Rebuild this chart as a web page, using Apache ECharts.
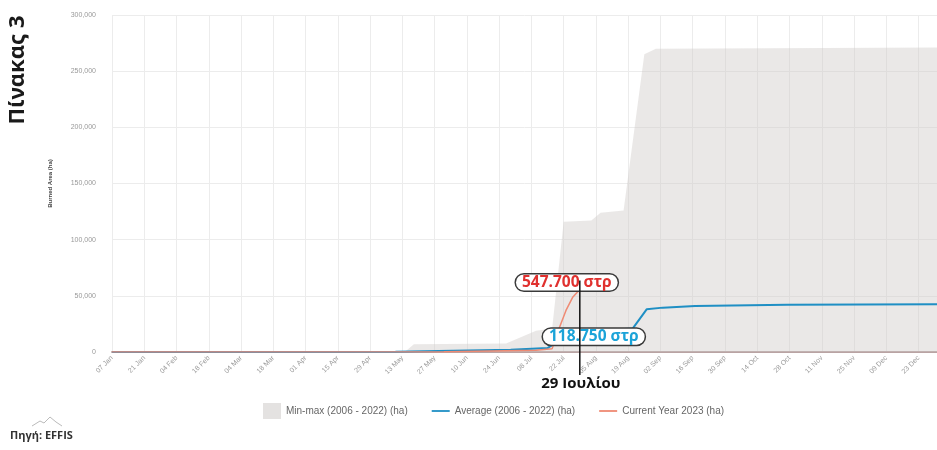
<!DOCTYPE html>
<html>
<head>
<meta charset="utf-8">
<script src="https://cdn.jsdelivr.net/npm/echarts@6/dist/echarts.min.js"></script>
<style>
html,body{margin:0;padding:0;background:#fff;}
#c{width:937px;height:450px;}
</style>
</head>
<body>
<div id="c"></div>
<script>
// ---- data (dates as MM-DD of 2023, values in ha) ----
const yTicks = [0, 50000, 100000, 150000, 200000, 250000, 300000];
const minMaxDates = ['01-07','05-14','05-18','06-27','07-10','07-17','07-22','08-03','08-07','08-17','08-26','08-31','12-31'];
const minMaxValues = [0, 0, 7000, 7500, 19000, 21000, 116000, 117000, 124000, 126000, 265000, 270000, 271000];
const avgDates = ['01-07','05-10','06-29','07-15','07-19','07-29','08-01','08-10','08-21','08-27','09-03','09-17','10-27','12-31'];
const avgValues = [0, 300, 2000, 3500, 9000, 11875, 13000, 19500, 21000, 38000, 39500, 41000, 42000, 42500];
const curDates = ['01-07','05-31','07-10','07-17','07-20','07-23','07-26','07-28','07-29'];
const curValues = [0, 300, 1500, 3000, 21000, 37000, 49000, 53500, 54770];
const seriesNames = ['Min-max (2006 - 2022) (ha)', 'Average (2006 - 2022) (ha)', 'Current Year 2023 (ha)'];
const monthNames = ['Jan','Feb','Mar','Apr','May','Jun','Jul','Aug','Sep','Oct','Nov','Dec'];
const annoDate = '07-29';
const annoCurText = '547.700 στρ';
const annoAvgText = '118.750 στρ';
const annoDateText = '29 Ιουλίου';
const titleText = 'Πίνακας 3';
const sourceText = 'Πηγή: EFFIS';

// x = days since 07 Jan 2023
const t0 = Date.UTC(2023, 0, 7);
function dayOffset(md) {
  const [m, d] = md.split('-').map(Number);
  return (Date.UTC(2023, m - 1, d) - t0) / 86400000;
}
function toPairs(dates, vals) { return dates.map((d, i) => [dayOffset(d), vals[i]]); }
function fmtDay(v) {
  const dt = new Date(t0 + v * 86400000);
  const dd = String(dt.getUTCDate()).padStart(2, '0');
  return dd + ' ' + monthNames[dt.getUTCMonth()];
}

const AVG_COLOR = '#1f8fc4';
const CUR_COLOR = '#ef8a73';
const lineIcon = 'path://M0,0H24V2.4H0Z';

const chart = echarts.init(document.getElementById('c'));
const option = {
  animation: false,
  backgroundColor: '#fff',
  grid: { left: 112, right: 0, top: 15, bottom: 98, containLabel: false },
  legend: {
    left: 258, top: 398,
    itemWidth: 18, itemHeight: 16, itemGap: 24,
    textStyle: { fontSize: 10, color: '#666', fontFamily: 'Liberation Sans' },
    data: [
      { name: seriesNames[0], icon: 'rect', itemStyle: { color: '#e4e2e1' } },
      { name: seriesNames[1], icon: lineIcon, itemStyle: { color: AVG_COLOR } },
      { name: seriesNames[2], icon: lineIcon, itemStyle: { color: CUR_COLOR } }
    ]
  },
  xAxis: {
    type: 'value',
    min: 0, max: dayOffset('12-31'), interval: 14,
    axisLine: { show: true, lineStyle: { color: '#b9a3a3', width: 2 } },
    axisTick: { show: false },
    splitLine: { show: true, lineStyle: { color: '#ececec', width: 1 } },
    axisLabel: {
      rotate: 45, fontSize: 7, color: '#999', margin: 5,
      fontFamily: 'Liberation Sans',
      showMaxLabel: false,
      formatter: v => (v % 14 === 0 ? fmtDay(v) : '')
    }
  },
  yAxis: {
    type: 'value', min: yTicks[0], max: yTicks[yTicks.length - 1], interval: yTicks[1] - yTicks[0],
    name: 'Burned Area (ha)', nameLocation: 'middle', nameGap: 59,
    nameTextStyle: { fontSize: 6, color: '#444', fontWeight: 'bold', fontFamily: 'Liberation Sans' },
    axisLine: { show: false }, axisTick: { show: false },
    splitLine: { lineStyle: { color: '#ececec' } },
    axisLabel: { fontSize: 7, color: '#999', margin: 16, fontFamily: 'Liberation Sans',
      formatter: v => v.toLocaleString('en-US') }
  },
  series: [
    {
      name: seriesNames[0], type: 'line', symbol: 'none', z: 1,
      data: toPairs(minMaxDates, minMaxValues),
      lineStyle: { width: 0 },
      itemStyle: { color: '#e4e2e1' },
      areaStyle: { color: 'rgba(205,200,198,0.42)', opacity: 1 }
    },
    {
      name: seriesNames[1], type: 'line', symbol: 'none', z: 3,
      data: toPairs(avgDates, avgValues),
      lineStyle: { width: 2, color: AVG_COLOR },
      itemStyle: { color: AVG_COLOR }
    },
    {
      name: seriesNames[2], type: 'line', symbol: 'none', z: 4,
      data: toPairs(curDates, curValues),
      lineStyle: { width: 1.5, color: CUR_COLOR },
      itemStyle: { color: CUR_COLOR }
    }
  ]
};
chart.setOption(option);

const xA = dayOffset(annoDate);
const pCur = chart.convertToPixel({ gridIndex: 0 }, [xA, curValues[curValues.length - 1]]);
const pAvg = chart.convertToPixel({ gridIndex: 0 }, [xA, avgValues[avgDates.indexOf(annoDate)]]);
const pBase = chart.convertToPixel({ gridIndex: 0 }, [xA, 0]);

const boxFont = 'bold 15.5px "Open Sans"';
chart.setOption({
  graphic: [
    {
      type: 'text', x: 18, y: 70, z: 10,
      rotation: Math.PI / 2,
      style: { text: titleText, font: 'bold 22px "Noto Sans"', fill: '#1a1a1a', align: 'center', verticalAlign: 'middle' }
    },
    {
      type: 'text', x: pCur[0] - 13, y: pCur[1] - 8, z: 20,
      style: {
        text: annoCurText, font: boxFont, fill: '#e0312f',
        align: 'center', verticalAlign: 'middle',
        backgroundColor: '#fff', borderColor: '#3a3a3a', borderWidth: 1.5, borderRadius: 9,
        padding: [0, 6, 0, 6]
      }
    },
    {
      type: 'text', x: pAvg[0] + 14, y: pAvg[1] - 2, z: 20,
      style: {
        text: annoAvgText, font: boxFont, fill: '#1ba3d8',
        align: 'center', verticalAlign: 'middle',
        backgroundColor: '#fff', borderColor: '#3a3a3a', borderWidth: 1.5, borderRadius: 9,
        padding: [0, 6, 0, 6]
      }
    },
    {
      type: 'line', z: 30,
      shape: { x1: pCur[0], y1: pCur[1] - 10, x2: pCur[0], y2: pBase[1] + 23 },
      style: { stroke: '#111', lineWidth: 1.5 }
    },
    {
      type: 'text', x: pCur[0] + 1, y: pBase[1] + 32, z: 20,
      style: { text: annoDateText, font: 'bold 15px "Open Sans"', fill: '#111', align: 'center', verticalAlign: 'middle' }
    },
    {
      type: 'polyline', z: 10,
      shape: { points: [[32, 426], [40, 421], [44, 423], [50, 417], [56, 422], [62, 426]] },
      style: { stroke: '#bbb', lineWidth: 1, fill: null }
    },
    {
      type: 'text', left: 10, top: 430, z: 10,
      style: { text: sourceText, font: 'bold 11px "Open Sans"', fill: '#333' }
    }
  ]
});
</script>
</body>
</html>
